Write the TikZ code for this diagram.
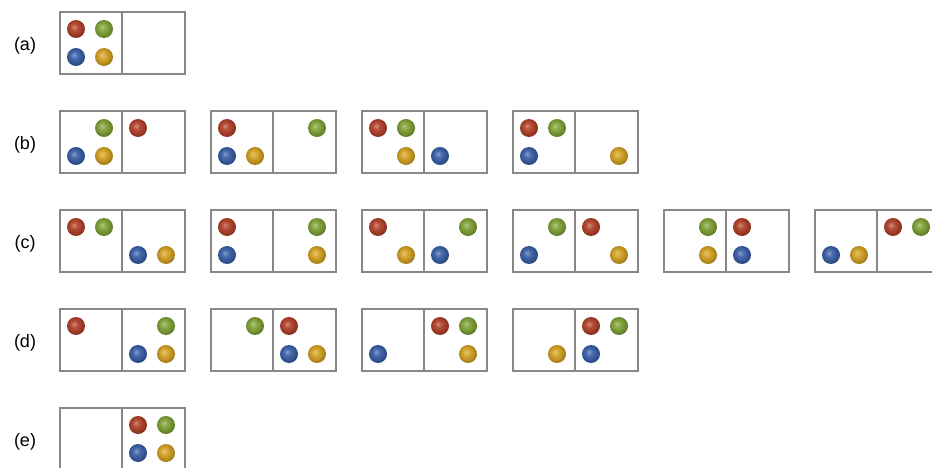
\documentclass[tikz,border=0pt]{standalone}
\usepackage{fontspec}
\setmainfont{Liberation Sans}
\definecolor{cR}{HTML}{B2412A}
\definecolor{cG}{HTML}{80A236}
\definecolor{cB}{HTML}{3A60A8}
\definecolor{cY}{HTML}{D4A223}
\definecolor{frameC}{HTML}{888888}
\colorlet{ballc}{cR}
\pgfdeclareradialshading[ballc]{softball}{\pgfqpoint{-6bp}{6bp}}{color(0bp)=(ballc!60!white); color(9bp)=(ballc!92!white); color(20bp)=(ballc!88!black); color(28bp)=(ballc!72!black); color(50bp)=(ballc!58!black)}
\newcommand\sball[3]{{\colorlet{ballc}{#1}\shade[shading=softball] (#2,#3) circle (9pt);}}
\newcommand\pairbox[6]{%
  \begin{scope}[shift={(#1,#2)}]
    \draw[frame] (0,0) rectangle (125,62);
    \draw[frame] (62,0) -- (62,62);
    \sball{cR}{16+62*#3}{17}
    \sball{cG}{44+62*#4}{17}
    \sball{cB}{16+62*#5}{45}
    \sball{cY}{44+62*#6}{45}
  \end{scope}}
\begin{document}
\begin{tikzpicture}[x=1pt,y=-1pt,
  frame/.style={draw=frameC,line width=1.8pt},
  lab/.style={font=\fontsize{18}{20}\selectfont,anchor=center}]
\useasboundingbox[clip] (0,0) rectangle (932,468);
\fill[white] (0,0) rectangle (932,468);
% labels
\node[lab] (la) at (25,46) {(a)};
\node[lab] (lb) at (25,145) {(b)};
\node[lab] (lc) at (25,244) {(c)};
\node[lab] (ld) at (25,343) {(d)};
\node[lab] (le) at (25,442) {(e)};
% (a)
\pairbox{60}{12}{0}{0}{0}{0}
% (b)
\pairbox{60}{111}{1}{0}{0}{0}
\pairbox{211}{111}{0}{1}{0}{0}
\pairbox{362}{111}{0}{0}{1}{0}
\pairbox{513}{111}{0}{0}{0}{1}
% (c)
\pairbox{60}{210}{0}{0}{1}{1}
\pairbox{211}{210}{0}{1}{0}{1}
\pairbox{362}{210}{0}{1}{1}{0}
\pairbox{513}{210}{1}{0}{0}{1}
\pairbox{664}{210}{1}{0}{1}{0}
\pairbox{815}{210}{1}{1}{0}{0}
% (d)
\pairbox{60}{309}{0}{1}{1}{1}
\pairbox{211}{309}{1}{0}{1}{1}
\pairbox{362}{309}{1}{1}{0}{1}
\pairbox{513}{309}{1}{1}{1}{0}
% (e)
\pairbox{60}{408}{1}{1}{1}{1}
\end{tikzpicture}
\end{document}
